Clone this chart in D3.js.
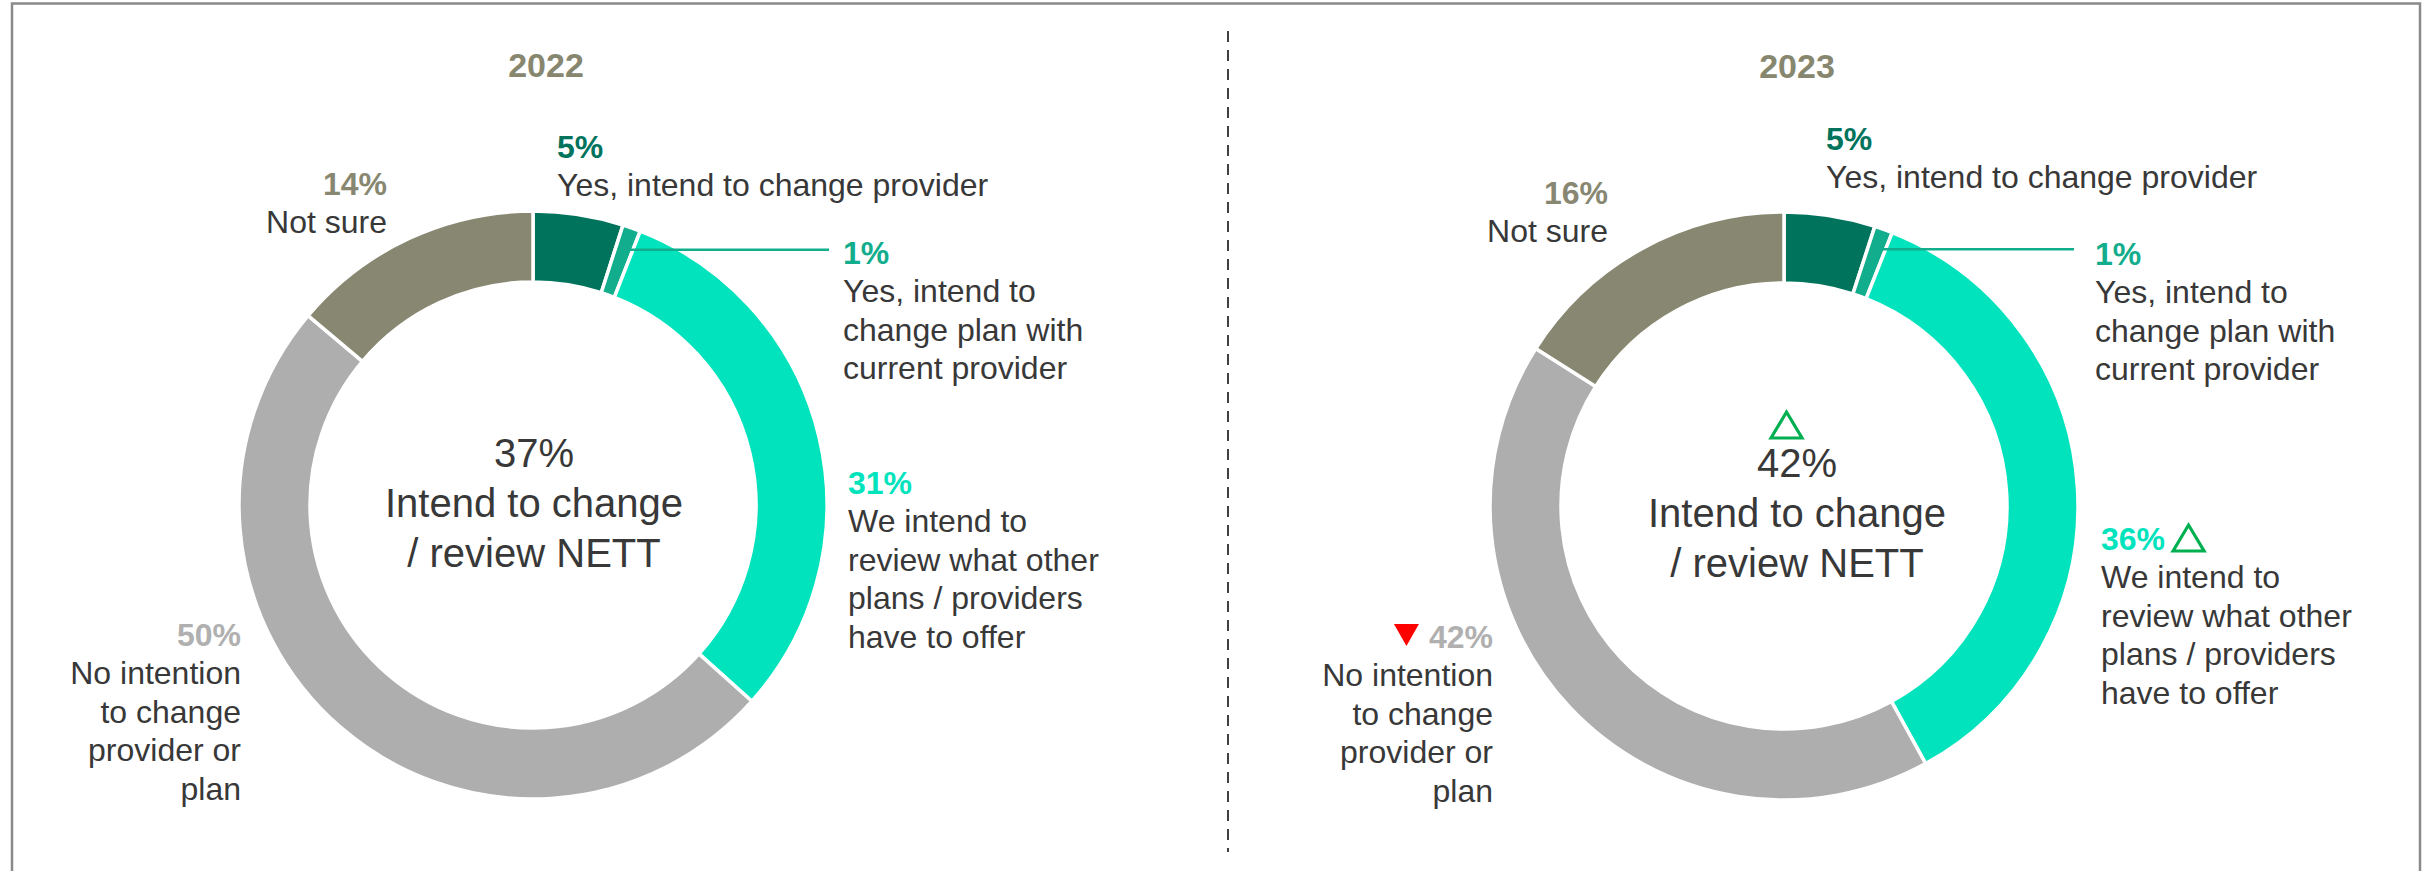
<!DOCTYPE html>
<html>
<head>
<meta charset="utf-8">
<script src="https://cdn.jsdelivr.net/npm/d3@7/dist/d3.min.js"></script>
<style>
  html, body { margin: 0; padding: 0; background: #ffffff; }
  svg { display: block; }
  text { font-family: "Liberation Sans", Arial, Helvetica, sans-serif; }
</style>
</head>
<body>
<svg id="chart" width="2433" height="871"></svg>
<script>
// ---- Data ----
const years = ["2022", "2023"];
const categories = [
  "Yes, intend to change provider",
  "Yes, intend to change plan with current provider",
  "We intend to review what other plans / providers have to offer",
  "No intention to change provider or plan",
  "Not sure"
];
const values2022 = [5, 1, 31, 50, 14];
const values2023 = [5, 1, 36, 42, 16];
const nettValues = [37, 42];
const nettLabel = ["Intend to change", "/ review NETT"];
// significance markers vs previous wave: "up", "down" or null
const changes2022 = [null, null, null, null, null];
const changes2023 = [null, null, "up", "down", null];
const nettChanges = [null, "up"];
// wrapped label lines per category, per year
const labelLines2022 = [
  ["Yes, intend to change provider"],
  ["Yes, intend to", "change plan with", "current provider"],
  ["We intend to", "review what other", "plans / providers", "have to offer"],
  ["No intention", "to change", "provider or", "plan"],
  ["Not sure"]
];
const labelLines2023 = labelLines2022;

// ---- Styles ----
const sliceColors = ["#00735c", "#12ad8c", "#00e3bc", "#aeaeae", "#888872"];
const pctColors   = ["#00735c", "#12ad8c", "#00e3bc", "#b0b0b0", "#888872"];
const textColor = "#383838";
const upColor = "#00b050";
const downColor = "#ff0000";

// ---- Layout ----
const layouts = [
  {
    cx: 533, cy: 505, titleX: 546, titleY: 77,
    centerX: 534, centerY: [467, 517, 567],
    leaderR: 271, leaderEnd: 829,
    labels: [
      { x: 557,  y: 158, anchor: "start" },
      { x: 843,  y: 264, anchor: "start" },
      { x: 848,  y: 494, anchor: "start" },
      { x: 241,  y: 646, anchor: "end" },
      { x: 387,  y: 195, anchor: "end" }
    ]
  },
  {
    cx: 1784, cy: 506, titleX: 1797, titleY: 78,
    centerX: 1797, centerY: [477, 527, 577],
    leaderR: 273, leaderEnd: 2074,
    labels: [
      { x: 1826, y: 150, anchor: "start" },
      { x: 2095, y: 265, anchor: "start" },
      { x: 2101, y: 550, anchor: "start" },
      { x: 1493, y: 648, anchor: "end" },
      { x: 1608, y: 204, anchor: "end" }
    ]
  }
];
const lineStep = 38.4;
const innerR = 223, outerR = 294;

const svg = d3.select("#chart");

// Frame
const frame = svg.append("g").attr("fill", "none").attr("stroke", "#8a8a8a").attr("stroke-width", 2.5);
frame.append("path").attr("d", d3.line()([[12, 871], [12, 3.5], [2420, 3.5], [2420, 871]]));

// Divider
svg.append("line")
  .attr("x1", 1228).attr("x2", 1228).attr("y1", 31).attr("y2", 852)
  .attr("stroke", "#404040").attr("stroke-width", 2)
  .attr("stroke-dasharray", "11,8");

const pie = d3.pie().sort(null).value(d => d.value);
const arc = d3.arc().innerRadius(innerR).outerRadius(outerR);

function upTriangle(g, x, yBase, w, h) {
  g.append("path")
    .attr("d", d3.line()([[x, yBase], [x + w / 2, yBase - h], [x + w, yBase]]) + "Z")
    .attr("fill", "none").attr("stroke", upColor).attr("stroke-width", 3.2)
    .attr("stroke-linejoin", "miter");
}
function downTriangle(g, x, yTop, w, h) {
  g.append("path")
    .attr("d", d3.line()([[x, yTop], [x + w, yTop], [x + w / 2, yTop + h]]) + "Z")
    .attr("fill", downColor);
}

const allValues = [values2022, values2023];
const allChanges = [changes2022, changes2023];
const allLines = [labelLines2022, labelLines2023];

years.forEach((year, i) => {
  const L = layouts[i];
  const data = categories.map((c, k) => ({ cat: c, value: allValues[i][k], change: allChanges[i][k], lines: allLines[i][k], k }));
  const g = svg.append("g");

  // Title
  g.append("text")
    .attr("x", L.titleX).attr("y", L.titleY)
    .attr("text-anchor", "middle")
    .attr("font-size", 34).attr("font-weight", "bold")
    .attr("fill", "#878770")
    .text(year);

  // Donut
  const arcs = pie(data);
  const donut = g.append("g").attr("transform", `translate(${L.cx},${L.cy})`);
  donut.selectAll("path.slice")
    .data(arcs).join("path")
    .attr("class", "slice")
    .attr("d", arc)
    .attr("fill", d => sliceColors[d.data.k])
    .attr("stroke", "#ffffff").attr("stroke-width", 3.5).attr("stroke-linejoin", "round");

  // Leader line for the thin second slice
  const leadArc = d3.arc().innerRadius(L.leaderR).outerRadius(L.leaderR);
  const p = leadArc.centroid(arcs[1]);
  g.append("line")
    .attr("x1", L.cx + p[0]).attr("y1", L.cy + p[1])
    .attr("x2", L.leaderEnd).attr("y2", L.cy + p[1])
    .attr("stroke", sliceColors[1]).attr("stroke-width", 2.5);

  // Category labels
  data.forEach(d => {
    const pos = L.labels[d.k];
    const pct = g.append("text")
      .attr("x", pos.x).attr("y", pos.y)
      .attr("text-anchor", pos.anchor)
      .attr("font-size", 32).attr("font-weight", "bold")
      .attr("fill", pctColors[d.k])
      .text(d.value + "%");
    const w = pct.node().getComputedTextLength();
    if (d.change === "up") {
      const x0 = pos.anchor === "start" ? pos.x + w + 8 : pos.x + 8;
      upTriangle(g, x0, pos.y + 1, 31, 26);
    } else if (d.change === "down") {
      const xr = pos.anchor === "end" ? pos.x - w - 10 : pos.x - 10;
      downTriangle(g, xr - 25, pos.y - 24, 25, 22);
    }
    d.lines.forEach((line, j) => {
      g.append("text")
        .attr("x", pos.x).attr("y", pos.y + lineStep * (j + 1))
        .attr("text-anchor", pos.anchor)
        .attr("font-size", 32)
        .attr("fill", textColor)
        .text(line);
    });
  });

  // Centre NETT label
  const centre = [nettValues[i] + "%"].concat(nettLabel);
  centre.forEach((t, j) => {
    g.append("text")
      .attr("x", L.centerX).attr("y", L.centerY[j])
      .attr("text-anchor", "middle")
      .attr("font-size", 40)
      .attr("fill", textColor)
      .text(t);
  });
  if (nettChanges[i] === "up") {
    upTriangle(g, L.centerX - 26, L.centerY[0] - 39, 31, 26);
  }
});
</script>
</body>
</html>
